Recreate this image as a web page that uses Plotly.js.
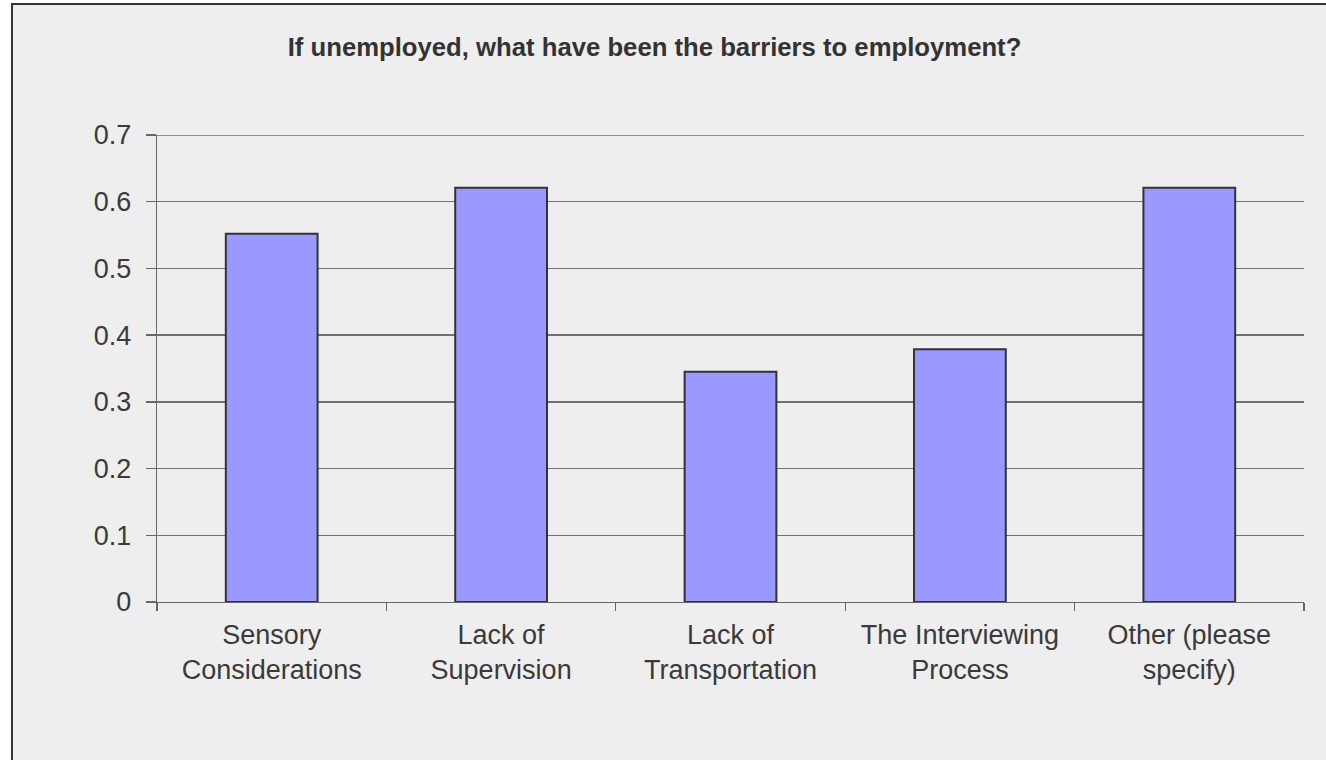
<!DOCTYPE html>
<html>
<head>
<meta charset="utf-8">
<script src="https://cdn.plot.ly/plotly-3.0.1.min.js"></script>
<style>
  html, body { margin: 0; padding: 0; background: #ffffff; }
  #chart {
    position: absolute; left: 11px; top: 3px;
    width: 1313px; height: 755px;
    border-left: 2px solid #333333; border-top: 2px solid #333333;
  }
</style>
</head>
<body>
<div id="chart"></div>
<script>
const categories = [
  "Sensory<br>Considerations",
  "Lack of<br>Supervision",
  "Lack of<br>Transportation",
  "The Interviewing<br>Process",
  "Other (please<br>specify)"
];
const values = [0.552, 0.621, 0.345, 0.379, 0.621];
const yTickValues = [0, 0.1, 0.2, 0.3, 0.4, 0.5, 0.6, 0.7];
const yTickLabels = ["0", "0.1", "0.2", "0.3", "0.4", "0.5", "0.6", "0.7"];
const chartTitle = "If unemployed, what have been the barriers to employment?";
const yMax = yTickValues[yTickValues.length - 1];

const trace = {
  type: "bar",
  x: categories,
  y: values,
  marker: { color: "#9999ff", line: { color: "#333333", width: 2 } },
  hoverinfo: "x+y"
};

const tickFont = { family: "Liberation Sans, Arial, sans-serif", size: 27, color: "#3a3a3a" };

const layout = {
  width: 1313,
  height: 755,
  paper_bgcolor: "#eeeeee",
  plot_bgcolor: "#eeeeee",
  margin: { l: 144, r: 22, t: 130, b: 158, pad: 0 },
  bargap: 0.6,
  showlegend: false,
  title: {
    text: chartTitle,
    font: { family: "Liberation Sans, Arial, sans-serif", size: 25.7, color: "#333333", weight: "bold" },
    xref: "container", yref: "container",
    x: 0.4886, xanchor: "center",
    y: 0.944, yanchor: "middle"
  },
  shapes: [{
    type: "line", xref: "paper", yref: "y",
    x0: 0, x1: 1, y0: yMax, y1: yMax,
    line: { color: "#707070", width: 1.3 },
    layer: "below"
  }],
  xaxis: {
    type: "category",
    tickson: "boundaries",
    ticks: "outside",
    ticklen: 8,
    tickwidth: 1.3,
    tickcolor: "#666666",
    showline: true,
    linecolor: "#666666",
    linewidth: 1.3,
    showgrid: false,
    zeroline: false,
    tickfont: tickFont,
    ticklabelstandoff: 8,
    fixedrange: true
  },
  yaxis: {
    range: [0, yMax],
    tickmode: "array",
    tickvals: yTickValues,
    ticktext: yTickLabels,
    ticks: "outside",
    ticklen: 10,
    tickwidth: 1.3,
    tickcolor: "#666666",
    showline: true,
    linecolor: "#666666",
    linewidth: 1.3,
    showgrid: true,
    gridcolor: "#707070",
    gridwidth: 1.3,
    zeroline: false,
    tickfont: tickFont,
    ticklabelstandoff: 9,
    fixedrange: true
  }
};

Plotly.newPlot("chart", [trace], layout, { displayModeBar: false, staticPlot: true });
</script>
</body>
</html>
